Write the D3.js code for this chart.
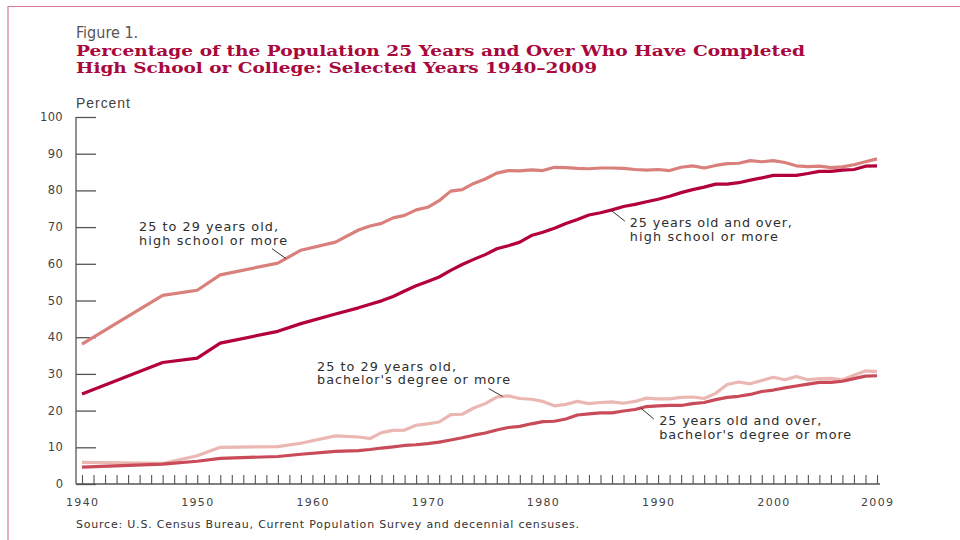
<!DOCTYPE html>
<html>
<head>
<meta charset="utf-8">
<script src="https://cdn.jsdelivr.net/npm/d3@7"></script>
<style>
  html, body { margin: 0; padding: 0; background: #fff; }
  svg { display: block; }
</style>
</head>
<body>
<svg id="chart" width="960" height="540"></svg>
<script>
// ---- Data ----
const years = [1940, 1947, 1950, 1952, 1957, 1959, 1962,
  1964, 1965, 1966, 1967, 1968, 1969, 1970, 1971, 1972, 1973, 1974, 1975, 1976, 1977, 1978, 1979,
  1980, 1981, 1982, 1983, 1984, 1985, 1986, 1987, 1988, 1989, 1990, 1991, 1992, 1993, 1994, 1995,
  1996, 1997, 1998, 1999, 2000, 2001, 2002, 2003, 2004, 2005, 2006, 2007, 2008, 2009];

const hs2529 = [38.1, 51.4, 52.8, 57.0, 60.2, 63.7, 65.9,
  69.2, 70.3, 71.0, 72.5, 73.2, 74.7, 75.4, 77.2, 79.8, 80.2, 81.9, 83.1, 84.7, 85.4, 85.3, 85.6,
  85.4, 86.3, 86.2, 86.0, 85.9, 86.1, 86.1, 86.0, 85.7, 85.5, 85.7, 85.4, 86.3, 86.7, 86.1, 86.8,
  87.3, 87.4, 88.1, 87.8, 88.1, 87.6, 86.7, 86.5, 86.6, 86.2, 86.4, 87.0, 87.8, 88.6];

const hs25 = [24.5, 33.1, 34.3, 38.4, 41.6, 43.7, 46.3,
  48.0, 49.0, 49.9, 51.1, 52.6, 54.0, 55.2, 56.4, 58.2, 59.8, 61.2, 62.5, 64.1, 64.9, 65.9, 67.7,
  68.6, 69.7, 71.0, 72.1, 73.3, 73.9, 74.7, 75.6, 76.2, 76.9, 77.6, 78.4, 79.4, 80.2, 80.9, 81.7,
  81.7, 82.1, 82.8, 83.4, 84.1, 84.1, 84.1, 84.6, 85.2, 85.2, 85.5, 85.7, 86.6, 86.7];

const ba2529 = [5.9, 5.6, 7.7, 10.0, 10.2, 11.1, 13.1,
  12.8, 12.4, 14.0, 14.6, 14.7, 16.0, 16.4, 16.9, 18.9, 19.0, 20.7, 21.9, 23.7, 24.0, 23.3, 23.1,
  22.5, 21.3, 21.7, 22.5, 21.9, 22.2, 22.4, 22.0, 22.5, 23.4, 23.2, 23.2, 23.6, 23.7, 23.3, 24.7,
  27.1, 27.8, 27.3, 28.2, 29.1, 28.4, 29.3, 28.4, 28.7, 28.8, 28.4, 29.6, 30.8, 30.6];

const ba25 = [4.6, 5.4, 6.2, 7.0, 7.5, 8.1, 8.9,
  9.1, 9.4, 9.8, 10.1, 10.5, 10.7, 11.0, 11.4, 12.0, 12.6, 13.3, 13.9, 14.7, 15.4, 15.7, 16.4,
  17.0, 17.1, 17.7, 18.8, 19.1, 19.4, 19.4, 19.9, 20.3, 21.1, 21.3, 21.4, 21.4, 21.9, 22.2, 23.0,
  23.6, 23.9, 24.4, 25.2, 25.6, 26.2, 26.7, 27.2, 27.7, 27.7, 28.0, 28.7, 29.4, 29.5];

const yTicks = [0, 10, 20, 30, 40, 50, 60, 70, 80, 90, 100];
const xLabels = [1940, 1950, 1960, 1970, 1980, 1990, 2000, 2009];

const seriesNames = ["25 to 29 years old, high school or more",
  "25 years old and over, high school or more",
  "25 to 29 years old, bachelor's degree or more",
  "25 years old and over, bachelor's degree or more"];

const labelLines = [
  ["25 to 29 years old,", "high school or more"],
  ["25 years old and over,", "high school or more"],
  ["25 to 29 years old,", "bachelor's degree or more"],
  ["25 years old and over,", "bachelor's degree or more"]
];
// label anchor (year, value of first baseline); leader-line point on series (year)
const labelYear = [1944.95, 1987.55, 1960.4, 1990.1];
const labelVal = [68.9, 70.0, 30.9, 16.0];
const leaderYear = [1957.7, 1985.9, 1976.5, 1988.5];

// ---- Drawing ----
const svg = d3.select("#chart");
const colors = ["#d9807c", "#b3003b", "#ebb7b2", "#c94b59"];
const axisColor = "#555";
const textColor = "#2e2e2e";

// fit a text element to a target width using letter spacing
function fit(t, target) {
  t.style("letter-spacing", "0px");
  const n = t.text().length;
  const w = t.node().getComputedTextLength();
  const ls = (target - w) / Math.max(1, n - 1);
  t.style("letter-spacing", ls + "px");
  return t;
}

// frame
svg.append("path")
  .attr("d", "M8,540 L8,6.5 L960,6.5")
  .attr("fill", "none").attr("stroke", "#d77c92").attr("stroke-width", 1.2);

const x = d3.scaleLinear().domain([1940, 2009]).range([82, 877]);
const y = d3.scaleLinear().domain([0, 100]).range([484, 117]);

// titles
svg.append("text").attr("x", 76).attr("y", 38)
  .attr("font-family", "'Liberation Sans Narrow', 'DejaVu Sans Condensed', 'Liberation Sans', sans-serif")
  .attr("font-size", 16).attr("fill", "#555")
  .text("Figure 1.");
const t1 = svg.append("text").attr("x", 76).attr("y", 56)
  .attr("font-family", "'DejaVu Serif', serif").attr("font-weight", "bold")
  .attr("font-size", 14.5).attr("fill", "#a8083c")
  .text("Percentage of the Population 25 Years and Over Who Have Completed");
const t2 = svg.append("text").attr("x", 76).attr("y", 73)
  .attr("font-family", "'DejaVu Serif', serif").attr("font-weight", "bold")
  .attr("font-size", 14.5).attr("fill", "#a8083c")
  .text("High School or College: Selected Years 1940\u20132009");
[[t1, 729], [t2, 521]].forEach(([t, w]) => {
  t.attr("textLength", w).attr("lengthAdjust", "spacingAndGlyphs");
});

fit(svg.append("text").attr("x", 76).attr("y", 108)
  .attr("font-family", "'Liberation Sans', sans-serif")
  .attr("font-size", 14).attr("fill", "#444")
  .text("Percent"), 54);

// y axis
const yAxis = d3.axisRight(y).tickValues(yTicks).tickSize(20).tickFormat("");
const gy = svg.append("g").attr("transform", "translate(76,0)").call(yAxis);
gy.select(".domain").attr("d", `M0,${y(100)}V${y(0)}`).attr("stroke", axisColor).attr("stroke-width", 1.3);
gy.selectAll(".tick line").attr("stroke", axisColor).attr("stroke-width", 1.3);

svg.append("g").selectAll("text").data(yTicks).join("text")
  .attr("x", 63).attr("y", d => y(d) + 4)
  .attr("text-anchor", "end")
  .attr("font-family", "'DejaVu Sans', sans-serif").attr("font-size", 11.5)
  .attr("fill", "#444")
  .text(d => d)
  .each(function () { fit(d3.select(this), this.textContent.length * 7.7 - 0.5); });

// x axis
const allYears = d3.range(1940, 2010);
const xAxis = d3.axisTop(x).tickValues(allYears).tickSize(9).tickFormat("");
const gx = svg.append("g").attr("transform", `translate(0,${y(0)})`).call(xAxis);
gx.select(".domain").attr("d", `M76,0H${x(2009) + 3}`).attr("stroke", axisColor).attr("stroke-width", 1.3);
gx.selectAll(".tick line").attr("stroke", axisColor).attr("stroke-width", 1.1);

svg.append("g").selectAll("text").data(xLabels).join("text")
  .attr("x", d => x(d) - 16).attr("y", 506)
  .attr("font-family", "'DejaVu Sans', sans-serif").attr("font-size", 11)
  .attr("fill", "#444")
  .text(d => d)
  .each(function () { fit(d3.select(this), 32); });

// lines (draw light ones first)
const seriesVals = [hs2529, hs25, ba2529, ba25];
const line = d3.line().x((d, i) => x(years[i])).y(d => y(d));
const order = [2, 3, 0, 1];
order.forEach(k => {
  svg.append("path").datum(seriesVals[k])
    .attr("d", line)
    .attr("fill", "none")
    .attr("stroke", colors[k])
    .attr("stroke-width", 3.2)
    .attr("stroke-linejoin", "round")
    .attr("stroke-linecap", "butt")
    .append("title").text(seriesNames[k]);
});

// labels and leader lines
const interp = (k, yr) => {
  const vals = seriesVals[k];
  for (let i = 0; i < years.length - 1; i++) {
    if (yr >= years[i] && yr <= years[i + 1]) {
      const t = (yr - years[i]) / (years[i + 1] - years[i]);
      return vals[i] + t * (vals[i + 1] - vals[i]);
    }
  }
  return vals[vals.length - 1];
};
// target widths of each label line (px) and leader offsets from the series point
const labelWidths = [[139, 148], [162, 148], [139, 193], [162, 192]];
const leaderOff = [[-14, -10], [14, 11], [-14, -8], [13, 11]];
labelLines.forEach((lines, k) => {
  const lx = x(labelYear[k]);
  const ly = y(labelVal[k]);
  lines.forEach((s, j) => {
    const t = svg.append("text").attr("x", lx).attr("y", ly + j * 13.5)
      .attr("font-family", "'DejaVu Sans', sans-serif").attr("font-size", 12.8)
      .attr("fill", textColor).text(s);
    fit(t, labelWidths[k][j]);
  });
  const ex = x(leaderYear[k]);
  const ey = y(interp(k, leaderYear[k]));
  svg.append("line")
    .attr("x1", ex + leaderOff[k][0]).attr("y1", ey + leaderOff[k][1])
    .attr("x2", ex).attr("y2", ey)
    .attr("stroke", "#333").attr("stroke-width", 1);
});

// source
fit(svg.append("text").attr("x", 76).attr("y", 528)
  .attr("font-family", "'DejaVu Sans', sans-serif").attr("font-size", 11)
  .attr("fill", "#333")
  .text("Source: U.S. Census Bureau, Current Population Survey and decennial censuses."), 503);
</script>
</body>
</html>
